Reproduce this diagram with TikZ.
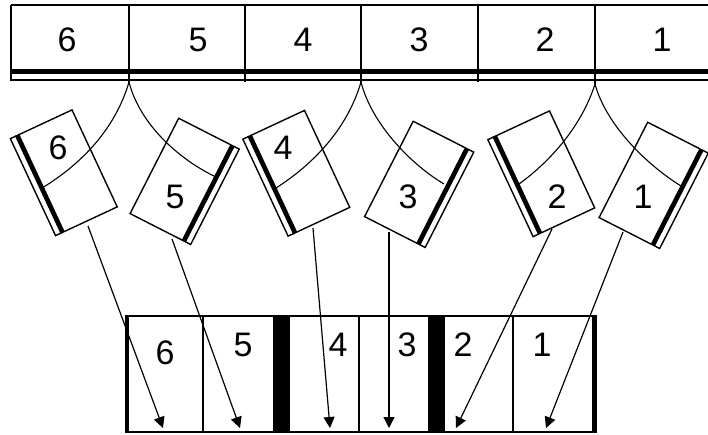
\documentclass[tikz,border=0pt]{standalone}
\usepackage{fontspec}
\setmainfont{Liberation Sans}
\usetikzlibrary{arrows.meta}

\begin{document}
\begin{tikzpicture}[x=1pt, y=-1pt,
    edge/.style={line width=1.4pt},
    spine/.style={line width=4pt},
    fold/.style={line width=1.1pt},
    arr/.style={line width=1.2pt, -{Triangle[width=11pt,length=11pt]}},
    num/.style={font=\fontsize{34}{34}\selectfont, inner sep=0pt}]
    \useasboundingbox (0,0) rectangle (708,434);

    % obere Leiste
    \draw[edge] (11,5) -- (708,5);
    \draw[line width=2.5pt] (11,5) -- (348,5);
    \draw[edge] (11,5) -- (11,80) -- (708,80);
    \draw[line width=5pt] (11,71.5) -- (708,71.5);
    \foreach \x in {129,245,361,478} \draw[edge] (\x,5) -- (\x,82);
    \draw[line width=2pt] (595,5) -- (595,84);
    \foreach \n/\x in {6/67, 5/198, 4/303, 3/419, 2/545, 1/662}
        \node[num] (t\n) at (\x,40) {\n};

    % Falzpunkte
    \coordinate (p1) at (129,82);
    \coordinate (p2) at (361,82);
    \coordinate (p3) at (595,84);

    % Bogen
    \foreach \n/\x/\y/\r/\s in {6/66.5/171.5/25/-1, 5/182/180/-27/1,
                                4/299/172/25/-1, 3/416.5/183/-27/1,
                                2/544/172.5/25/-1, 1/651/184/-27/1}
    {
        \begin{scope}[shift={(\x,\y)}, rotate=\r]
            \draw[edge] (-31,-53.5) rectangle (31,53.5);
            \draw[edge] ({\s*31},-53.5) -- ({\s*37},-53.5) -- ({\s*37},53.5) -- ({\s*31},53.5);
            \draw[spine] ({\s*29},-53.5) -- ({\s*29},53.5);
        \end{scope}
    }

    % Falzlinien
    \draw[fold] (p1) .. controls (115,130) and (80,165) .. (42,188);
    \draw[fold] (p1) .. controls (140,125) and (180,160) .. (216,177);
    \draw[fold] (p2) .. controls (347,130) and (312,165) .. (276,188);
    \draw[fold] (p2) .. controls (372,125) and (412,165) .. (444,184);
    \draw[fold] (p3) .. controls (582,125) and (552,160) .. (519,184);
    \draw[fold] (p3) .. controls (606,125) and (647,165) .. (681,186);

    % Zahlen auf den Boegen
    \node[num] (n6) at (58,148) {6};
    \node[num] (n5) at (175,197) {5};
    \node[num] (n4) at (283,148) {4};
    \node[num] (n3) at (408,197) {3};
    \node[num] (n2) at (557,197) {2};
    \node[num] (n1) at (643,197) {1};

    % untere Leiste
    \draw[edge] (125,432) -- (597,432);
    \draw[line width=2pt] (125,316) -- (318,316);
    \draw[edge] (318,316) -- (597,316);
    \draw[line width=4pt] (127,316) -- (127,433);
    \draw[line width=5pt] (594.5,316) -- (594.5,433);
    \fill (273,316) rectangle (290,432);
    \fill (428,316) rectangle (445,432);
    \foreach \x in {203,359,513} \draw[edge] (\x,316) -- (\x,432);
    \foreach \n/\x/\y in {6/165/353, 5/243/345, 4/338/345, 3/407/345, 2/463/345, 1/542/345}
        \node[num] (s\n) at (\x,\y) {\n};

    % Pfeile
    \foreach \n/\x/\y in {6/88/226, 5/172/239, 4/313/228, 3/389/232, 2/552/229, 1/623/232}
        \coordinate (o\n) at (\x,\y);
    \foreach \n/\x in {6/163, 5/240, 4/330, 3/389, 2/456, 1/546}
        \coordinate (i\n) at (\x,428);
    \foreach \n in {6,...,1}
        \draw[arr] (o\n) -- (i\n);
\end{tikzpicture}
\end{document}
